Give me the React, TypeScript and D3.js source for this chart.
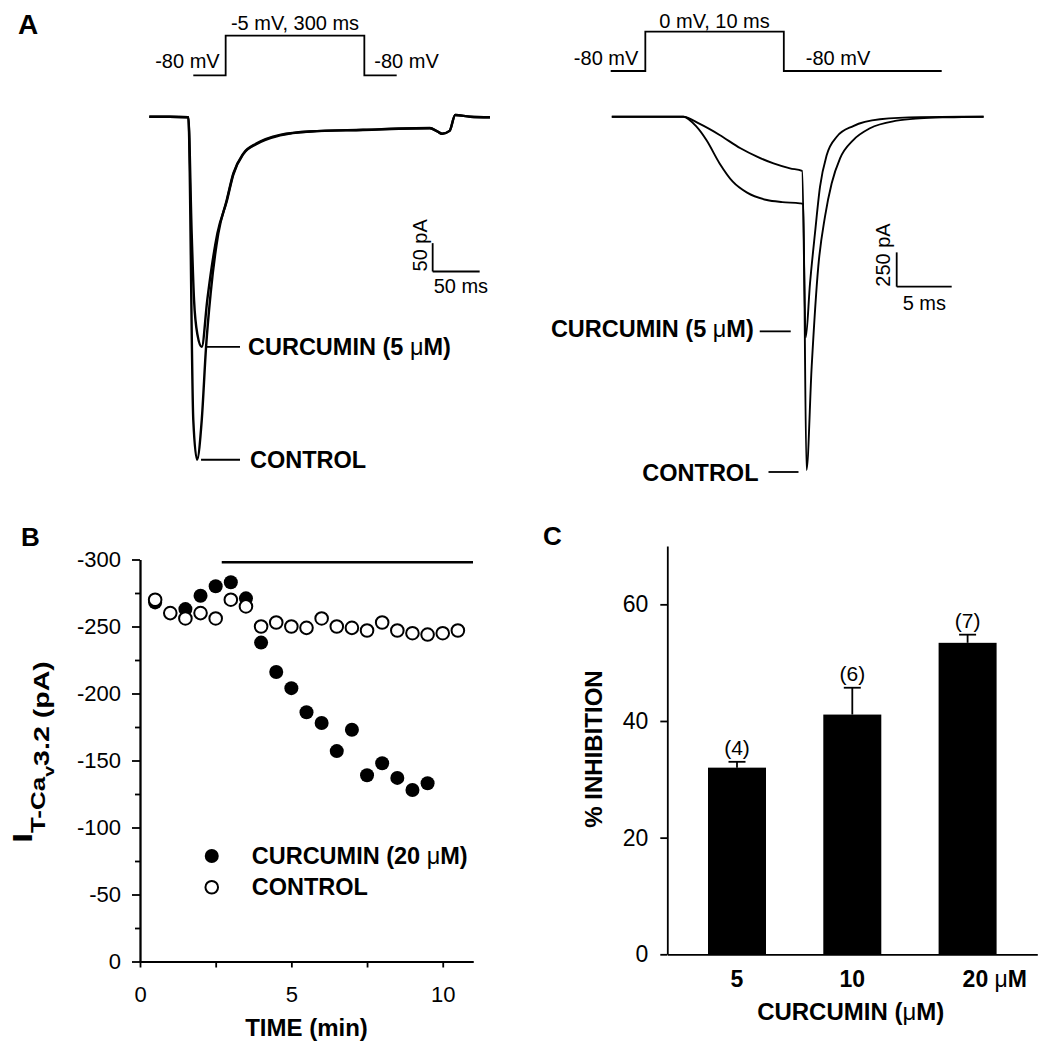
import React, { useEffect, useRef } from 'react';
import * as d3 from 'd3';

const FONT = "'Liberation Sans', Arial, Helvetica, sans-serif";

// Panel A (left): -5 mV, 300 ms step. [time ms, current pA]
const leftControl = [
  [-41.5, 0], [-20, 0], [0, -1], [5.3, -535], [9.3, -605], [14.3, -535], [18.9, -406],
  [23.8, -311], [31.9, -206], [40.9, -147], [47.9, -100], [58.5, -65], [72.8, -47],
  [97.6, -32], [129.5, -26], [186, -23.5], [257, -20.5], [265, -26], [270, -30],
  [278, -25], [284, 3], [300, 0], [321, -1],
];
const leftCurcumin = [
  [-41.5, 0], [-20, 0], [0, -1], [3.6, -206], [6.1, -323], [9.8, -385], [14.3, -406],
  [20.2, -323], [24.9, -265], [30.9, -206], [40.9, -149], [47.9, -102], [58.5, -66],
  [72.8, -48], [97.6, -33], [129.5, -26], [186, -23], [257, -20], [265, -26], [270, -30],
  [278, -25], [284, 3], [300, 0], [321, -1],
];
// voltage protocol [time ms, mV] (schematic)
const leftProtocol = [[-70, -80], [0, -80], [0, -5], [300, -5], [300, -80], [370, -80]];

// Panel A (right): 0 mV, 10 ms step
const rightControl = [
  [-6.5, 0], [-3, 0], [0, 0], [1.2, -73], [2.1, -170], [3.3, -340], [4.5, -473],
  [5.8, -553], [7.6, -607], [9.0, -622], [10.6, -631], [10.9, -636], [11.2, -2573],
  [11.67, -1821], [12.27, -1092], [12.88, -728], [13.49, -485], [14.25, -303],
  [15.45, -170], [16.97, -84], [19.4, -29], [21.5, -12], [24, -4], [27.3, 0],
];
const rightCurcumin = [
  [-6.5, 0], [-3, 0], [0, 0], [1.5, -53], [3.3, -133], [5.2, -230], [6.7, -291],
  [8.2, -340], [9.7, -376], [10.8, -395], [11.13, -1607], [11.52, -1213], [11.97, -849],
  [12.43, -510], [13.04, -279], [13.95, -146], [15.45, -68], [17.88, -19], [21.5, -3],
  [27.3, 0],
];
const rightProtocol = [[-2.5, -80], [0, -80], [0, 0], [10, 0], [10, -80], [21.4, -80]];

// Panel B: time course
const controlTimes = [0.5, 1, 1.5, 2, 2.5, 3, 3.5, 4, 4.5, 5, 5.5, 6, 6.5, 7, 7.5, 8, 8.5, 9, 9.5, 10, 10.5];
const controlCurrent = [-270, -260, -256, -260, -256, -270, -265, -250, -253, -250, -249, -256, -250, -249, -247, -253, -247, -245, -244, -245, -247];
const curcuminTimes = [0.5, 1.5, 2, 2.5, 3, 3.5, 4, 4.5, 5, 5.5, 6, 6.5, 7, 7.5, 8, 8.5, 9, 9.5];
const curcuminCurrent = [-268, -263, -273, -280, -283, -271, -238, -216, -204, -186, -178, -157, -173, -139, -148, -137, -128, -133];
const drugBar = { start: 2.7, end: 11, level: -298 };

// Panel C: % inhibition
const concentrations = ['5', '10', '20'];
const inhibition = [32.0, 41.1, 53.4];
const inhibitionSem = [1.0, 4.6, 1.4];
const cellCounts = [4, 6, 7];

export default function App() {
  const ref = useRef<SVGSVGElement>(null);

  useEffect(() => {
    const svg = d3.select(ref.current);
    svg.selectAll('*').remove();
    svg.attr('font-family', FONT);

    const label = (g: any, x: number, y: number, s: string, size: number, weight = 'normal', anchor = 'start') =>
      g.append('text').attr('x', x).attr('y', y).attr('font-size', size)
        .attr('font-weight', weight).attr('text-anchor', anchor).attr('fill', '#000').text(s);

    // bold label with a plain mu inside
    const muLabel = (g: any, x: number, y: number, before: string, after: string, size: number, anchor = 'start') => {
      const t = g.append('text').attr('x', x).attr('y', y).attr('font-size', size)
        .attr('font-weight', 'bold').attr('text-anchor', anchor);
      t.append('tspan').text(before);
      t.append('tspan').attr('font-weight', 'normal').text('μ');
      t.append('tspan').text(after);
      return t;
    };

    const hline = (g: any, x1: number, x2: number, y: number, w = 1.8) =>
      g.append('line').attr('x1', x1).attr('x2', x2).attr('y1', y).attr('y2', y)
        .attr('stroke', '#000').attr('stroke-width', w);
    const vline = (g: any, x: number, y1: number, y2: number, w = 1.8) =>
      g.append('line').attr('x1', x).attr('x2', x).attr('y1', y1).attr('y2', y2)
        .attr('stroke', '#000').attr('stroke-width', w);

    const BOLD = 23.5;
    const SMALL = 20;

    // panel letters
    label(svg, 18, 34, 'A', 28, 'bold');
    label(svg, 21, 546, 'B', 26, 'bold');
    label(svg, 543, 545, 'C', 26, 'bold');

    // ---------- Panel A left ----------
    const gL = svg.append('g');
    const pxL = d3.scaleLinear().domain([-70, 370]).range([193.3, 396.7]);
    const pyL = d3.scaleLinear().domain([-80, -5]).range([75.3, 35.7]);
    const protoLineL = d3.line<number[]>().x((d) => pxL(d[0])).y((d) => pyL(d[1]));
    gL.append('path').attr('d', protoLineL(leftProtocol)).attr('fill', 'none')
      .attr('stroke', '#000').attr('stroke-width', 1.8);
    label(gL, pxL(0) - 6, pyL(-80) - 7, '-80 mV', SMALL, 'normal', 'end');
    label(gL, pxL(300) + 10, pyL(-80) - 7, '-80 mV', SMALL);
    label(gL, (pxL(0) + pxL(300)) / 2, pyL(-5) - 6, '-5 mV, 300 ms', SMALL, 'normal', 'middle');

    const xL = d3.scaleLinear().domain([-41.5, 321]).range([149.3, 490]);
    const yL = d3.scaleLinear().domain([0, -500]).range([116.7, 400.2]);
    const traceL = d3.line<number[]>().x((d) => xL(d[0])).y((d) => yL(d[1])).curve(d3.curveMonotoneX);
    gL.append('path').attr('d', traceL(leftCurcumin)).attr('fill', 'none').attr('stroke', '#000').attr('stroke-width', 2.4);
    gL.append('path').attr('d', traceL(leftControl)).attr('fill', 'none').attr('stroke', '#000').attr('stroke-width', 2.4);

    // scale bar 50 pA / 50 ms
    vline(gL, xL(260), yL(-273), yL(-223));
    hline(gL, xL(260), xL(310), yL(-273));
    gL.append('text').attr('transform', `translate(${xL(260) - 6},${yL(-273)}) rotate(-90)`)
      .attr('font-size', SMALL).text('50 pA');
    label(gL, xL(260) + 1, yL(-273) + 22, '50 ms', SMALL);

    // leaders
    const cPeakL = leftCurcumin[6];
    const kPeakL = leftControl[4];
    hline(gL, xL(cPeakL[0]) + 4, xL(55), yL(cPeakL[1]));
    muLabel(gL, xL(55) + 8, yL(cPeakL[1]) + 8, 'CURCUMIN (5 ', 'M)', BOLD);
    hline(gL, xL(kPeakL[0]) + 4, xL(55), yL(kPeakL[1]));
    label(gL, xL(55) + 10, yL(kPeakL[1]) + 8, 'CONTROL', BOLD, 'bold');

    // ---------- Panel A right ----------
    const gR = svg.append('g');
    const pxR = d3.scaleLinear().domain([-2.5, 21.4]).range([610.7, 941.7]);
    const pyR = d3.scaleLinear().domain([-80, 0]).range([71, 31.7]);
    const protoLineR = d3.line<number[]>().x((d) => pxR(d[0])).y((d) => pyR(d[1]));
    gR.append('path').attr('d', protoLineR(rightProtocol)).attr('fill', 'none')
      .attr('stroke', '#000').attr('stroke-width', 1.8);
    label(gR, pxR(0) - 7, pyR(-80) - 6, '-80 mV', SMALL, 'normal', 'end');
    label(gR, pxR(10) + 22, pyR(-80) - 6, '-80 mV', SMALL);
    label(gR, (pxR(0) + pxR(10)) / 2, pyR(0) - 4, '0 mV, 10 ms', SMALL, 'normal', 'middle');

    const xR = d3.scaleLinear().domain([-6.5, 27.3]).range([611.8, 983.6]);
    const yR = d3.scaleLinear().domain([0, -2600]).range([116.7, 473.7]);
    const traceR = d3.line<number[]>().x((d) => xR(d[0])).y((d) => yR(d[1])).curve(d3.curveMonotoneX);
    gR.append('path').attr('d', traceR(rightCurcumin)).attr('fill', 'none').attr('stroke', '#000').attr('stroke-width', 1.9);
    gR.append('path').attr('d', traceR(rightControl)).attr('fill', 'none').attr('stroke', '#000').attr('stroke-width', 1.9);

    // scale bar 250 pA / 5 ms
    vline(gR, xR(19.4), yR(-1238), yR(-988));
    hline(gR, xR(19.4), xR(24.4), yR(-1238));
    gR.append('text').attr('transform', `translate(${xR(19.4) - 7},${yR(-1238)}) rotate(-90)`)
      .attr('font-size', SMALL).text('250 pA');
    label(gR, xR(19.4) + 6, yR(-1238) + 23, '5 ms', SMALL);

    const cPeakR = rightCurcumin[10];
    const kPeakR = rightControl[12];
    hline(gR, xR(cPeakR[0]) - 46, xR(cPeakR[0]) - 15, yR(cPeakR[1]) - 6);
    muLabel(gR, xR(cPeakR[0]) - 52, yR(cPeakR[1]), 'CURCUMIN (5 ', 'M)', BOLD, 'end');
    hline(gR, xR(kPeakR[0]) - 38, xR(kPeakR[0]) - 8, yR(kPeakR[1]) + 2);
    label(gR, xR(kPeakR[0]) - 48, yR(kPeakR[1]) + 11, 'CONTROL', BOLD, 'bold', 'end');

    // ---------- Panel B ----------
    const gB = svg.append('g');
    const xB = d3.scaleLinear().domain([0, 11]).range([140, 473]);
    const yB = d3.scaleLinear().domain([0, -300]).range([961.5, 559.5]);

    const styleAxis = (a: any, size: number) => {
      a.select('.domain').attr('stroke-width', 1.8);
      a.selectAll('.tick line').attr('stroke-width', 1.8);
      a.selectAll('.tick text').attr('font-size', size).attr('font-family', FONT).attr('fill', '#000');
      a.attr('font-family', FONT);
    };

    const yAxisB = gB.append('g').attr('transform', `translate(${xB(0)},0)`)
      .call(d3.axisLeft(yB).tickValues([0, -50, -100, -150, -200, -250, -300]).tickSize(8)
        .tickSizeOuter(0).tickPadding(11).tickFormat((d: any) => String(d)));
    styleAxis(yAxisB, 22);
    const yMinorB = gB.append('g').attr('transform', `translate(${xB(0)},0)`)
      .call(d3.axisLeft(yB).tickValues([-25, -75, -125, -175, -225, -275]).tickSize(5)
        .tickSizeOuter(0).tickFormat(() => ''));
    styleAxis(yMinorB, 22);
    const xAxisB = gB.append('g').attr('transform', `translate(0,${yB(0)})`)
      .call(d3.axisBottom(xB).tickValues([0, 5, 10]).tickSize(6).tickSizeOuter(0)
        .tickPadding(19).tickFormat((d: any) => String(d)));
    styleAxis(xAxisB, 22);
    const xMinorB = gB.append('g').attr('transform', `translate(0,${yB(0)})`)
      .call(d3.axisBottom(xB).tickValues([2.5, 7.5]).tickSize(6).tickSizeOuter(0).tickFormat(() => ''));
    styleAxis(xMinorB, 22);

    // drug application bar
    hline(gB, xB(drugBar.start), xB(drugBar.end), yB(drugBar.level), 2.5);

    gB.selectAll('.cur').data(curcuminTimes).enter().append('circle')
      .attr('cx', (d) => xB(d)).attr('cy', (d, i) => yB(curcuminCurrent[i]))
      .attr('r', 7).attr('fill', '#000');
    gB.selectAll('.ctl').data(controlTimes).enter().append('circle')
      .attr('cx', (d) => xB(d)).attr('cy', (d, i) => yB(controlCurrent[i]))
      .attr('r', 6.3).attr('fill', '#fff').attr('stroke', '#000').attr('stroke-width', 2);

    // legend
    gB.append('circle').attr('cx', xB(2.37)).attr('cy', yB(-78.7)).attr('r', 7).attr('fill', '#000');
    gB.append('circle').attr('cx', xB(2.37)).attr('cy', yB(-55.4)).attr('r', 6.3)
      .attr('fill', '#fff').attr('stroke', '#000').attr('stroke-width', 2);
    muLabel(gB, xB(2.37) + 40, yB(-78.7) + 8, 'CURCUMIN (20 ', 'M)', BOLD);
    label(gB, xB(2.37) + 40, yB(-55.4) + 8, 'CONTROL', BOLD, 'bold');

    label(gB, xB(5.5), 1036, 'TIME (min)', 24, 'bold', 'middle');
    const yt = gB.append('text').attr('transform', `translate(32,752) rotate(-90) scale(1.3,1)`)
      .attr('font-weight', 'bold').attr('text-anchor', 'middle');
    yt.append('tspan').attr('font-size', 27).text('I');
    yt.append('tspan').attr('font-size', 20).attr('dy', 13).text('T-Ca');
    yt.append('tspan').attr('font-size', 15).attr('dy', 9).text('v');
    yt.append('tspan').attr('font-size', 22).attr('dy', -5).text('3.2 (pA)');

    // ---------- Panel C ----------
    const gC = svg.append('g');
    const xC = d3.scaleBand().domain(concentrations).range([667.3, 1037.3])
      .paddingInner(0.497).paddingOuter(0.353);
    const yC = d3.scaleLinear().domain([0, 70]).range([954.3, 546]);

    gC.selectAll('.bar').data(concentrations).enter().append('rect')
      .attr('x', (d) => xC(d) as number).attr('width', xC.bandwidth())
      .attr('y', (d, i) => yC(inhibition[i])).attr('height', (d, i) => yC(0) - yC(inhibition[i]))
      .attr('fill', '#000');

    concentrations.forEach((c, i) => {
      const cx = (xC(c) as number) + xC.bandwidth() / 2;
      const top = yC(inhibition[i] + inhibitionSem[i]);
      vline(gC, cx, yC(inhibition[i]), top);
      hline(gC, cx - 8.5, cx + 8.5, top);
      label(gC, cx, top - 7, `(${cellCounts[i]})`, 21, 'normal', 'middle');
      if (i < concentrations.length - 1) {
        label(gC, cx, 987, c, 23, 'bold', 'middle');
      } else {
        muLabel(gC, cx - 5, 987, c + ' ', 'M', 23);
      }
    });

    const yAxisC = gC.append('g').attr('transform', `translate(${xC.range()[0]},0)`)
      .call(d3.axisLeft(yC).tickValues([0, 20, 40, 60]).tickSize(7).tickSizeOuter(0)
        .tickPadding(12).tickFormat((d: any) => String(d)));
    styleAxis(yAxisC, 23);
    const xAxisC = gC.append('g').attr('transform', `translate(0,${yC(0)})`)
      .call(d3.axisBottom(xC).tickSize(0).tickSizeOuter(0).tickFormat(() => ''));
    styleAxis(xAxisC, 23);

    muLabel(gC, 850.7, 1020, 'CURCUMIN (', 'M)', 24, 'middle');
    gC.append('text').attr('transform', `translate(602,749) rotate(-90)`)
      .attr('font-size', 24).attr('font-weight', 'bold').attr('text-anchor', 'middle')
      .text('% INHIBITION');
  }, []);

  return (
    <svg
      ref={ref}
      width={1050}
      height={1050}
      style={{ position: 'absolute', left: 0, top: 0, background: '#fff', display: 'block' }}
    />
  );
}
